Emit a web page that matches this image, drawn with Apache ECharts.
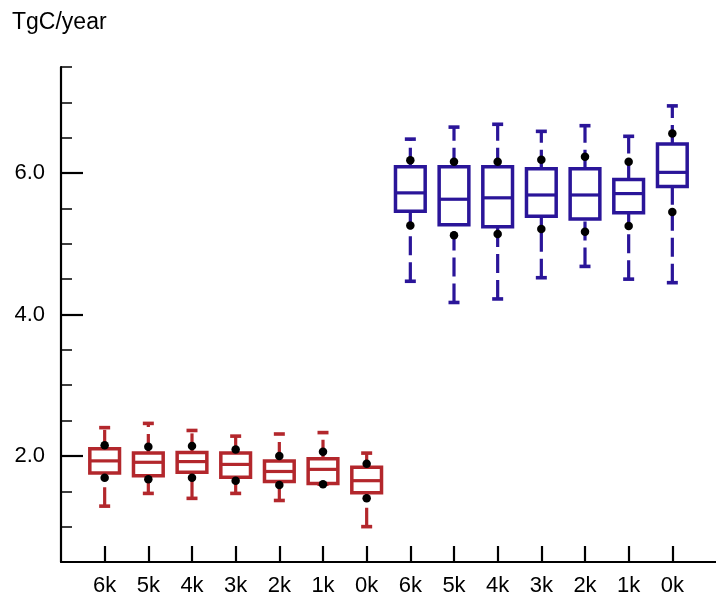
<!DOCTYPE html>
<html>
<head>
<meta charset="utf-8">
<script src="https://cdn.jsdelivr.net/npm/echarts@6/dist/echarts.min.js"></script>
<style>
  html, body { margin: 0; padding: 0; background: #fff; }
  #chart { width: 716px; height: 597px; }
</style>
</head>
<body>
<div id="chart"></div>
<script>
// ---- Data ----
const categories = ['6k', '5k', '4k', '3k', '2k', '1k', '0k', '6k', '5k', '4k', '3k', '2k', '1k', '0k'];
const groupA = [0, 1, 2, 3, 4, 5, 6];        // red boxes
const groupB = [7, 8, 9, 10, 11, 12, 13];    // blue boxes
const whiskerLow  = [1.29, 1.47, 1.40, 1.47, 1.37, 1.60, 1.00, 4.47, 4.17, 4.22, 4.52, 4.68, 4.50, 4.45];
const q1          = [1.76, 1.72, 1.77, 1.70, 1.64, 1.61, 1.48, 5.46, 5.27, 5.24, 5.39, 5.35, 5.44, 5.81];
const median      = [1.93, 1.91, 1.92, 1.88, 1.78, 1.81, 1.65, 5.72, 5.63, 5.65, 5.69, 5.69, 5.71, 6.01];
const q3          = [2.10, 2.04, 2.05, 2.04, 1.93, 1.96, 1.84, 6.09, 6.09, 6.09, 6.06, 6.06, 5.91, 6.41];
const whiskerHigh = [2.40, 2.46, 2.36, 2.28, 2.31, 2.33, 2.04, 6.48, 6.65, 6.69, 6.59, 6.67, 6.52, 6.95];
const dotLow      = [1.69, 1.67, 1.69, 1.65, 1.59, 1.60, 1.40, 5.26, 5.12, 5.14, 5.21, 5.17, 5.25, 5.45];
const dotHigh     = [2.15, 2.13, 2.14, 2.09, 2.00, 2.06, 1.89, 6.18, 6.16, 6.16, 6.19, 6.23, 6.16, 6.56];
const yMajorTicks = [2, 4, 6];
const yName = 'TgC/year';

const RED = '#b3272c';
const BLUE = '#2a1599';
const FONT = 'Liberation Sans, Arial, sans-serif';

const positions = categories.map((c, i) => i + 1);

function boxData(idx) {
  return idx.map(i => [positions[i], whiskerLow[i], q1[i], median[i], q3[i], whiskerHigh[i]]);
}

function makeRender(color) {
  return function (params, api) {
    const x = api.value(0);
    const pLo = api.coord([x, api.value(1)]);
    const pQ1 = api.coord([x, api.value(2)]);
    const pMed = api.coord([x, api.value(3)]);
    const pQ3 = api.coord([x, api.value(4)]);
    const pHi = api.coord([x, api.value(5)]);
    const band = api.size([1, 0])[0];
    const bw = band * 0.68;
    const cx = pMed[0];
    const capHalf = 5.5;
    const lineStyle = { stroke: color, lineWidth: 3.2, fill: null };
    const dashStyle = { stroke: color, lineWidth: 3.2, lineDash: [19, 7], fill: null };
    return {
      type: 'group',
      children: [
        { type: 'line', shape: { x1: cx, y1: pLo[1], x2: cx, y2: pQ1[1] }, style: dashStyle },
        { type: 'line', shape: { x1: cx, y1: pQ3[1], x2: cx, y2: pHi[1] }, style: dashStyle },
        { type: 'line', shape: { x1: cx - capHalf, y1: pLo[1], x2: cx + capHalf, y2: pLo[1] }, style: { stroke: color, lineWidth: 3.6 } },
        { type: 'line', shape: { x1: cx - capHalf, y1: pHi[1], x2: cx + capHalf, y2: pHi[1] }, style: { stroke: color, lineWidth: 3.6 } },
        { type: 'rect', shape: { x: cx - bw / 2, y: pQ3[1], width: bw, height: pQ1[1] - pQ3[1] },
          style: { stroke: color, lineWidth: 3.5, fill: '#ffffff' } },
        { type: 'line', shape: { x1: cx - bw / 2, y1: pMed[1], x2: cx + bw / 2, y2: pMed[1] }, style: lineStyle }
      ]
    };
  };
}

const dots = [];
positions.forEach((p, i) => { dots.push([p, dotLow[i]]); dots.push([p, dotHigh[i]]); });

const chart = echarts.init(document.getElementById('chart'), null, { renderer: 'canvas' });
chart.setOption({
  animation: false,
  backgroundColor: '#ffffff',
  title: {
    text: yName,
    left: 7,
    top: 6,
    textStyle: { fontFamily: FONT, fontSize: 23, fontWeight: 'normal', color: '#000' }
  },
  grid: { left: 61, right: -6, top: 67, bottom: 35, containLabel: false },
  xAxis: {
    type: 'value',
    min: 0,
    max: 15,
    axisLine: { show: true, lineStyle: { color: '#000', width: 2.2 } },
    axisTick: { show: true, inside: true, length: 16, customValues: positions, lineStyle: { color: '#000', width: 2.2 } },
    axisLabel: {
      show: true,
      customValues: positions,
      formatter: v => categories[Math.round(v) - 1] || '',
      margin: 13,
      color: '#000',
      fontFamily: FONT,
      fontSize: 22
    },
    splitLine: { show: false }
  },
  yAxis: [
    {
      type: 'value',
      position: 'left',
      min: 0.5,
      max: 7.5,
      interval: 0.5,
      axisLine: { show: true, lineStyle: { color: '#000', width: 2.2 } },
      axisTick: { show: true, inside: true, length: 11, lineStyle: { color: '#000', width: 1.5 } },
      axisLabel: { show: false },
      splitLine: { show: false }
    },
    {
      type: 'value',
      position: 'left',
      min: 0.5,
      max: 7.5,
      axisLine: { show: false },
      axisTick: { show: true, inside: true, length: 22, customValues: yMajorTicks, lineStyle: { color: '#000', width: 2.2 } },
      axisLabel: {
        show: true,
        customValues: yMajorTicks,
        formatter: v => Number(v).toFixed(1),
        margin: 16,
        color: '#000',
        fontFamily: FONT,
        fontSize: 22
      },
      splitLine: { show: false }
    }
  ],
  series: [
    {
      name: 'group A',
      type: 'custom',
      yAxisIndex: 0,
      renderItem: makeRender(RED),
      encode: { x: 0, y: [1, 2, 3, 4, 5] },
      data: boxData(groupA),
      z: 2
    },
    {
      name: 'group B',
      type: 'custom',
      yAxisIndex: 0,
      renderItem: makeRender(BLUE),
      encode: { x: 0, y: [1, 2, 3, 4, 5] },
      data: boxData(groupB),
      z: 2
    },
    {
      name: 'percentiles',
      type: 'scatter',
      yAxisIndex: 0,
      symbol: 'circle',
      symbolSize: 8.5,
      itemStyle: { color: '#000', opacity: 1 },
      data: dots,
      z: 5
    }
  ]
});
</script>
</body>
</html>
